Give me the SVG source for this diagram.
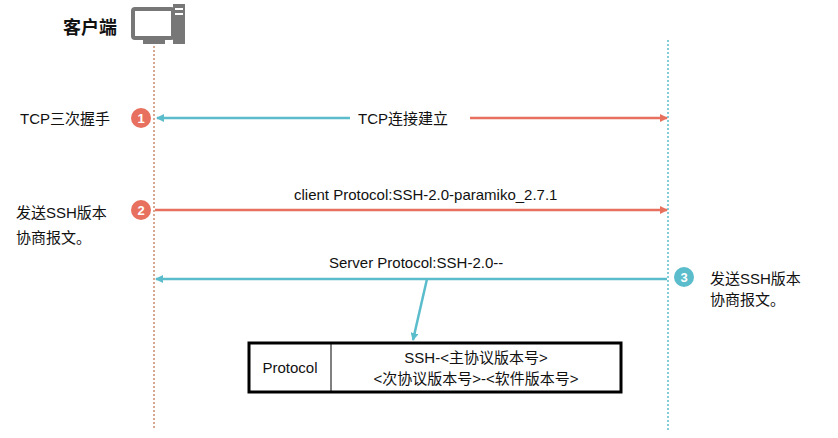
<svg xmlns="http://www.w3.org/2000/svg" width="838" height="438" viewBox="0 0 838 438">
<style>
text{font-family:"Liberation Sans","Noto Sans CJK SC",sans-serif;font-size:15px;fill:#111}
.red{stroke:#e8705e;stroke-width:2.5;fill:none}
.teal{stroke:#5bbccc;stroke-width:2.5;fill:none}
.num{font-size:13px;font-weight:bold;fill:#fff;text-anchor:middle}
</style>
<defs>
<marker id="ar" markerWidth="8" markerHeight="8" refX="7" refY="4" orient="auto" markerUnits="userSpaceOnUse"><path d="M0,0L8,4L0,8z" fill="#e8705e"/></marker>
<marker id="at" markerWidth="8" markerHeight="8" refX="7" refY="4" orient="auto" markerUnits="userSpaceOnUse"><path d="M0,0L8,4L0,8z" fill="#5bbccc"/></marker>
</defs>
<g id="client">
<text x="63" y="34" style="font-size:18px;font-weight:bold">客户端</text>
<rect x="133" y="9" width="40" height="29" rx="2" fill="none" stroke="#777" stroke-width="4"/>
<rect x="143" y="40" width="22" height="4" fill="#777"/>
<rect x="173" y="4" width="12" height="40" fill="#777"/>
<rect x="175" y="8" width="8" height="2" fill="#fff"/>
<rect x="175" y="13" width="8" height="2" fill="#fff"/>
</g>
<g id="lifelines">
<line x1="154" y1="46" x2="154" y2="430" stroke="#c98a6e" stroke-width="1.5" stroke-dasharray="2,2"/>
<line x1="668" y1="40" x2="668" y2="430" stroke="#5bbccc" stroke-width="1.5" stroke-dasharray="2,2"/>
</g>
<g id="connectors">
<line class="teal" x1="350" y1="118" x2="157" y2="118" marker-end="url(#at)"/>
<line class="red" x1="470" y1="118" x2="667" y2="118" marker-end="url(#ar)"/>
<line class="red" x1="155" y1="210" x2="667" y2="210" marker-end="url(#ar)"/>
<line class="teal" x1="667" y1="279" x2="156" y2="279" marker-end="url(#at)"/>
<line class="teal" x1="427" y1="279" x2="413" y2="340" marker-end="url(#at)"/>
</g>
<g id="labels">
<text x="20" y="124">TCP三次握手</text>
<text x="358" y="124">TCP连接建立</text>
<text x="294" y="200">client Protocol:SSH-2.0-paramiko_2.7.1</text>
<text x="329" y="268">Server Protocol:SSH-2.0--</text>
<text x="16" y="218">发送SSH版本</text>
<text x="16" y="243">协商报文。</text>
<text x="710" y="284">发送SSH版本</text>
<text x="710" y="305">协商报文。</text>
</g>
<g id="n1"><circle cx="141" cy="118" r="10" fill="#e8705e"/><text class="num" x="141" y="123">1</text></g>
<g id="n2"><circle cx="141" cy="210" r="10" fill="#e8705e"/><text class="num" x="141" y="215">2</text></g>
<g id="n3"><circle cx="684" cy="277" r="10" fill="#5bbccc"/><text class="num" x="684" y="282">3</text></g>
<g id="protocol">
<rect x="249" y="343" width="372" height="49" fill="#fff" stroke="#000" stroke-width="3"/>
<line x1="331" y1="343" x2="331" y2="392" stroke="#000" stroke-width="1"/>
<text x="290" y="373" text-anchor="middle">Protocol</text>
<text x="476" y="363" text-anchor="middle">SSH-&lt;主协议版本号&gt;</text>
<text x="476" y="384" text-anchor="middle">&lt;次协议版本号&gt;-&lt;软件版本号&gt;</text>
</g>
</svg>
